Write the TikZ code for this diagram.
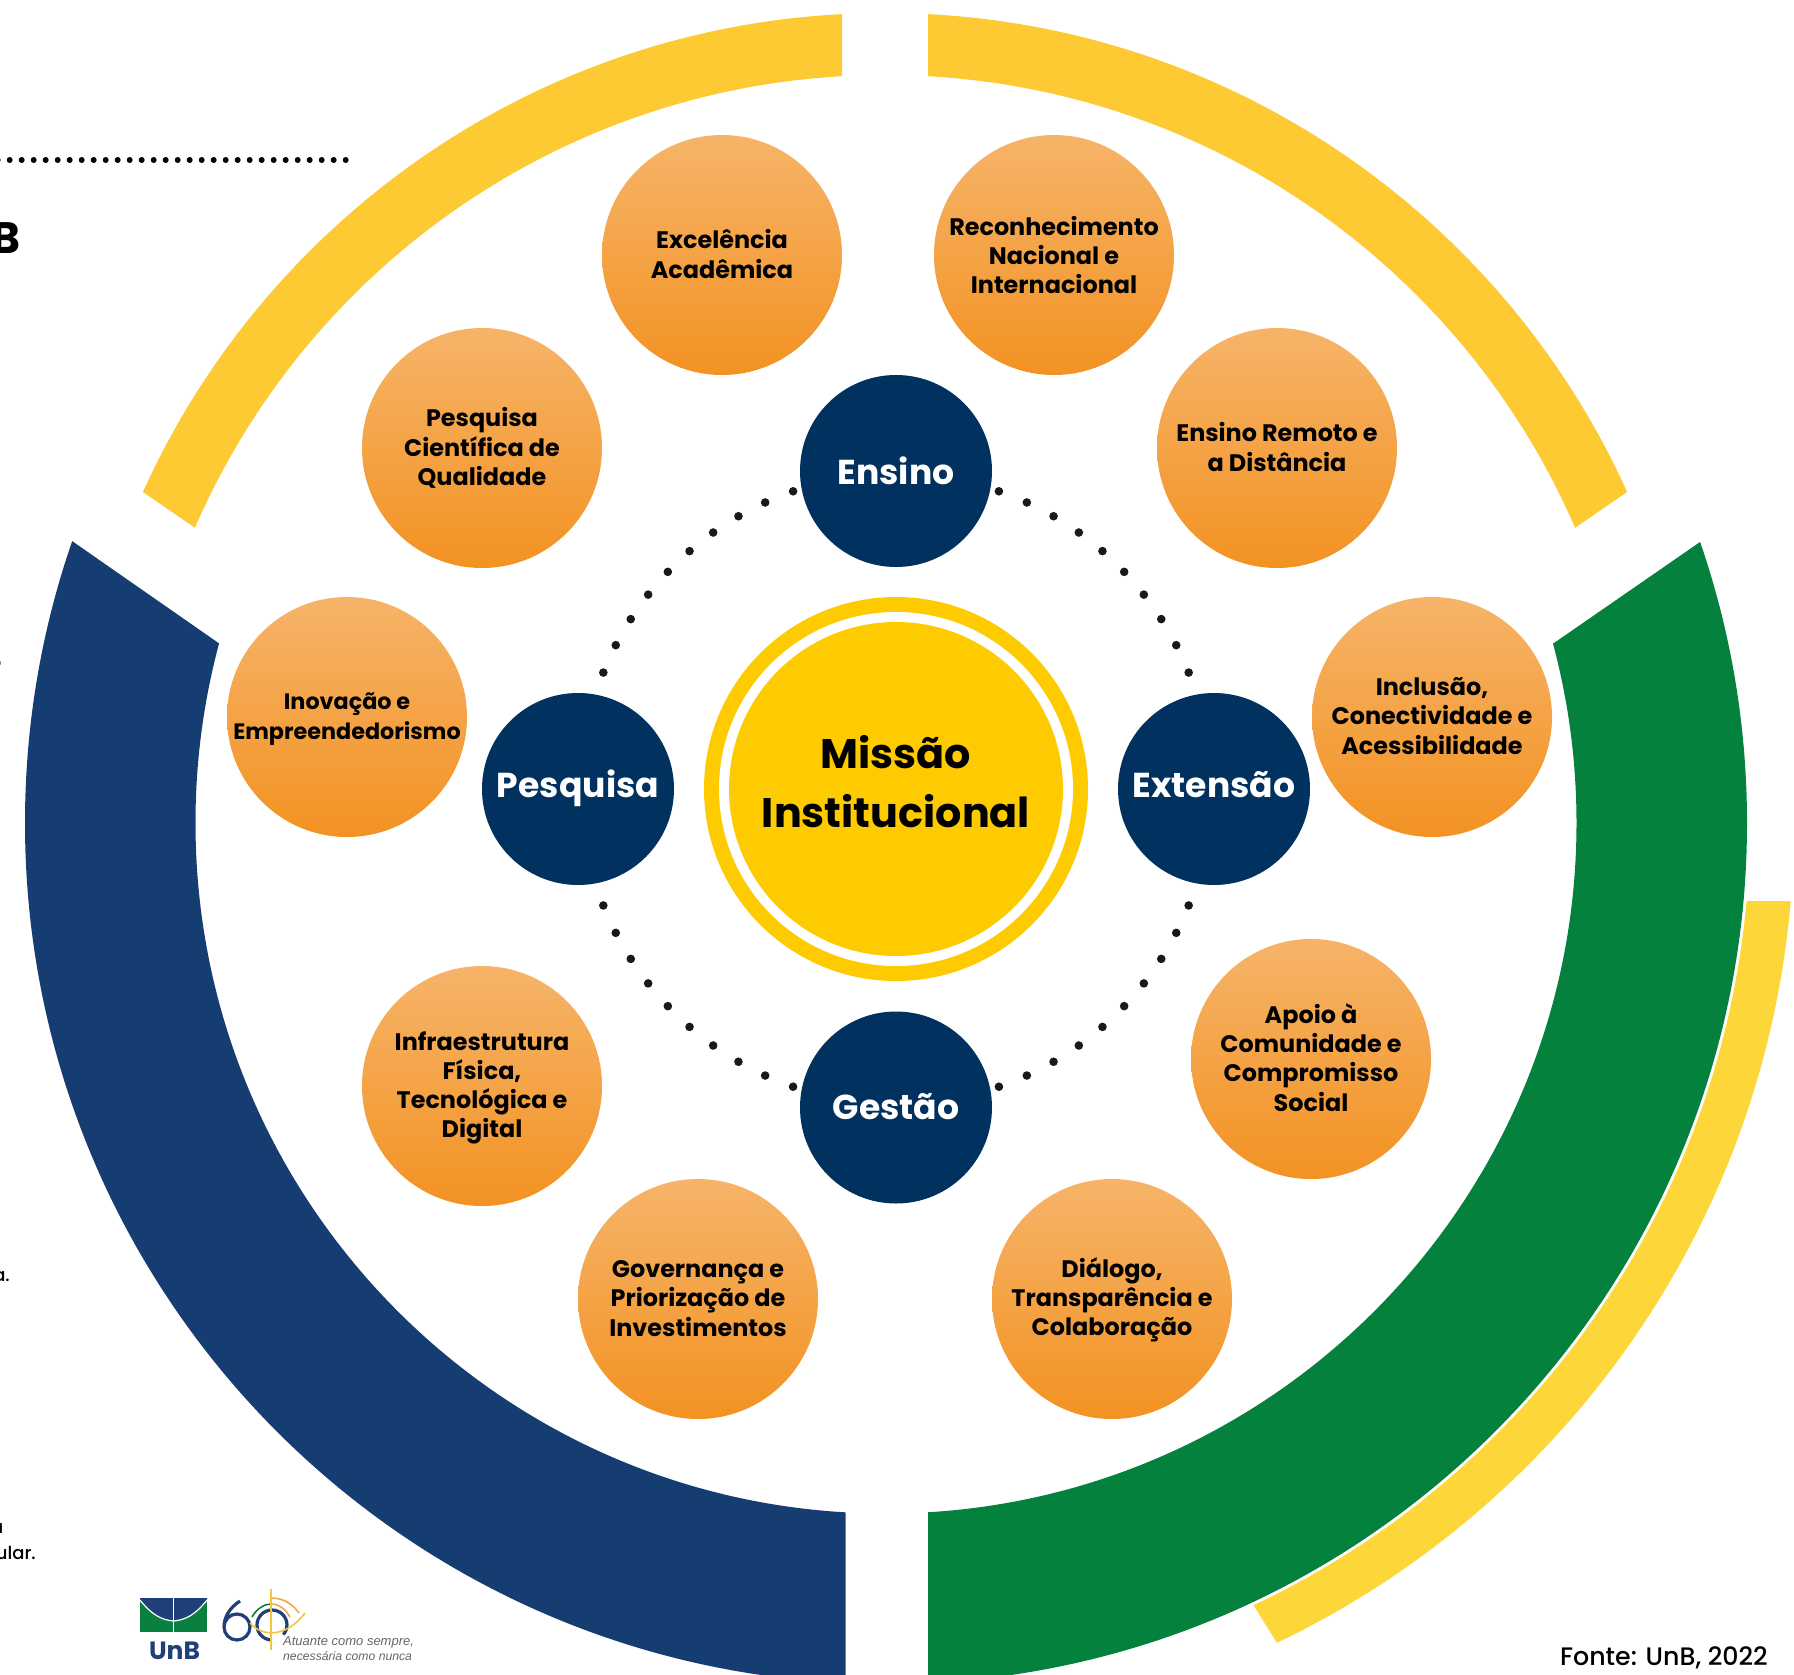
\documentclass[tikz,border=0pt]{standalone}
\usepackage{fontspec}
\usetikzlibrary{calc}
\setmainfont{Poppins}
\newfontfamily\logofont{Liberation Sans}
\newfontfamily\medfont{Poppins Medium}
\definecolor{navyc}{HTML}{00315F}
\definecolor{ringblue}{HTML}{163D72}
\definecolor{ringgreen}{HTML}{05813E}
\definecolor{ringyellow}{HTML}{FDCA33}
\definecolor{sideyellow}{HTML}{FDD63A}
\definecolor{coreyellow}{HTML}{FDCB00}
\definecolor{orangetop}{HTML}{F6B469}
\definecolor{orangebot}{HTML}{F39222}
\definecolor{logoblue}{HTML}{1F3F78}
\definecolor{logogreen}{HTML}{0A8040}
\definecolor{logogold}{HTML}{F5C242}
\definecolor{logoorange}{HTML}{F0A94A}
\tikzset{
  petal/.style={circle,minimum size=240pt,inner sep=0pt,top color=orangetop,bottom color=orangebot},
  petaltext/.style={inner sep=0pt,align=center,font=\fontsize{23.9}{29.2}\selectfont\bfseries,text=black},
  pillar/.style={circle,minimum size=192pt,inner sep=0pt,fill=navyc},
  pillartext/.style={inner sep=0pt,font=\fontsize{34.6}{40}\selectfont\bfseries,text=white},
  leftcut/.style={inner sep=0pt,anchor=base east,font=\medfont\fontsize{18}{20}\selectfont,text=black},
  slogan/.style={inner sep=0pt,anchor=base west,text=black!60}
}
\begin{document}
\begin{tikzpicture}[x=1pt,y=-1pt]
\useasboundingbox (0,0) rectangle (1794,1675);
\clip (0,0) rectangle (1794,1675);
\fill[white] (0,0) rectangle (1794,1675);
% outer rings
\coordinate (rc) at (886,823);
\coordinate (tc) at (885,827);
\begin{scope}
\clip (842,-50)--(842,400)--(297.5,598.5)--(91.5,456.5)--(-50,-50)--cycle;
\fill[ringyellow,even odd rule] (tc) circle (814) (tc) circle (752);
\end{scope}
\begin{scope}
\clip (928,-50)--(928,400)--(1472.5,598.5)--(1678.5,456.5)--(1850,-50)--cycle;
\fill[ringyellow,even odd rule] (tc) circle (814) (tc) circle (752);
\end{scope}
\begin{scope}
\clip (1900,901)--(1000,901)--(1208,1532)--(1323,1717)--(1900,1717)--cycle;
\fill[sideyellow,even odd rule] (rc) circle (908) (rc) circle (864);
\end{scope}
\begin{scope}
\clip (-74.5,439)--(365,745)--(845.5,745)--(845.5,1800)--(-100,1800)--cycle;
\fill[ringblue,even odd rule] (rc) circle (861) (rc) circle (690.5);
\end{scope}
\begin{scope}
\clip (1849,439)--(1406.5,745)--(928,745)--(928,1800)--(1900,1800)--cycle;
\fill[ringgreen,even odd rule] (rc) circle (861) (rc) circle (690.5);
\end{scope}
% dotted arcs
\coordinate (mc) at (896,789);
\foreach \sx/\sy in {1/1,1/-1,-1/1,-1/-1}{
  \foreach \k in {0,...,9}{
    \pgfmathsetmacro{\ang}{21.7+\k*5.47}
    \fill[black!90] ($(mc)+({\sx*315*cos(\ang)},{\sy*315*sin(\ang)})$) circle (4.3);
  }
}
% centre
\node[circle,minimum size=384pt,inner sep=0pt,fill=coreyellow] (coreouter) at (mc) {};
\node[circle,minimum size=354pt,inner sep=0pt,fill=white] (corewhite) at (mc) {};
\node[circle,minimum size=334pt,inner sep=0pt,fill=coreyellow] (core) at (mc) {};
\node[inner sep=0pt,align=center,font=\fontsize{41.3}{59}\selectfont\bfseries] (coretext) at (896,782) {Missão\\Institucional};
% pillars
\node[pillar] (ensino) at (896,471) {};
\node[pillar] (pesquisa) at (578,789) {};
\node[pillar] (extensao) at (1214,789) {};
\node[pillar] (gestao) at (896,1107.5) {};
\node[pillartext] (ensinot) at (896,471) {Ensino};
\node[pillartext] (pesquisat) at (578,788) {Pesquisa};
\node[pillartext] (extensaot) at (1214,785) {Extensão};
\node[pillartext] (gestaot) at (896,1107) {Gestão};
% petals
\node[petal] (p1) at (722,255) {};
\node[petal] (p2) at (1054,255) {};
\node[petal] (p3) at (482,448) {};
\node[petal] (p4) at (1277,448) {};
\node[petal] (p5) at (347,717) {};
\node[petal] (p6) at (1432,717) {};
\node[petal] (p7) at (482,1086) {};
\node[petal] (p8) at (1311,1059) {};
\node[petal] (p9) at (698,1299) {};
\node[petal] (p10) at (1112,1299) {};
\node[petaltext] (t1) at (722,254) {Excelência\\Acadêmica};
\node[petaltext] (t2) at (1054,255) {Reconhecimento\\Nacional e\\Internacional};
\node[petaltext] (t3) at (482,448) {Pesquisa\\Científica de\\Qualidade};
\node[petaltext] (t4) at (1277,447) {Ensino Remoto e\\a Distância};
\node[petaltext,font=\fontsize{22.3}{29.2}\selectfont\bfseries] (t5) at (347,719) {Inovação e\\Empreendedorismo};
\node[petaltext] (t6) at (1432,716) {Inclusão,\\Conectividade e\\Acessibilidade};
\node[petaltext] (t7) at (482,1088) {Infraestrutura\\Física,\\Tecnológica e\\Digital};
\node[petaltext] (t8) at (1311,1057.5) {Apoio à\\Comunidade e\\Compromisso\\Social};
\node[petaltext] (t9) at (698,1298.5) {Governança e\\Priorização de\\Investimentos};
\node[petaltext] (t10) at (1112,1300) {Diálogo,\\Transparência e\\Colaboração};
% page fragments at the left
\foreach \k in {0,...,29}{ \fill[black] (345.7-12*\k,160) circle (3); }
\node[inner sep=0pt,anchor=base east,font=\fontsize{44}{48}\selectfont\bfseries] (bcut) at (21,253) {B};
\node[leftcut] (cut1) at (1.5,668) {o};
\node[leftcut] (cut2) at (10,1281) {a.};
\node[leftcut] (cut3) at (3.5,1533) {a};
\node[leftcut] (cut4) at (36,1559) {ular.};
% source
\node[inner sep=0pt,anchor=base east,font=\medfont\fontsize{25.3}{28}\selectfont,text=black] (fonte) at (1768,1665) {Fonte: UnB, 2022};
% logo
\fill[logogreen] (140,1598) rectangle (207,1632);
\fill[logoblue] (140,1598)--(207,1598)--(207,1600) .. controls (196,1614) and (186,1620) .. (173.5,1621) .. controls (161,1620) and (151,1614) .. (140,1600)--cycle;
\draw[white,line width=1.2] (140,1600) .. controls (151,1614) and (161,1620) .. (173.5,1621) .. controls (186,1620) and (196,1614) .. (207,1600);
\draw[white,line width=1.2] (173.5,1598)--(173.5,1632);
\node[inner sep=0pt,anchor=base,font=\fontsize{25}{26}\selectfont\bfseries,text=logoblue] (unb) at (174.5,1659) {UnB};
\draw[logoblue,line width=3.2] (240,1601) .. controls (229,1608) and (224,1618) .. (224,1627) arc[start angle=180,end angle=540,radius=13];
\draw[logoblue,line width=3.2] (272,1640) arc[start angle=90,end angle=400,radius=15];
\draw[logogreen,line width=1.6] (252,1617) .. controls (257,1608) and (265,1604) .. (271,1604);
\draw[logoorange,line width=1.6] (271,1598) .. controls (285,1598) and (293,1605) .. (299,1613);
\draw[logoorange,line width=1.6] (271,1604) .. controls (280,1604) and (285,1609) .. (290,1617);
\draw[logogold,line width=1.6] (250,1623) .. controls (262,1637) and (286,1638) .. (305,1613);
\draw[logogold,line width=2] (271,1589)--(271,1650);
\node[slogan,font=\logofont\itshape\fontsize{13}{14}\selectfont] (slogan1) at (283,1645) {Atuante como sempre,};
\node[slogan,font=\logofont\itshape\fontsize{12.2}{14}\selectfont] (slogan2) at (283,1660) {necessária como nunca};
\end{tikzpicture}
\end{document}
